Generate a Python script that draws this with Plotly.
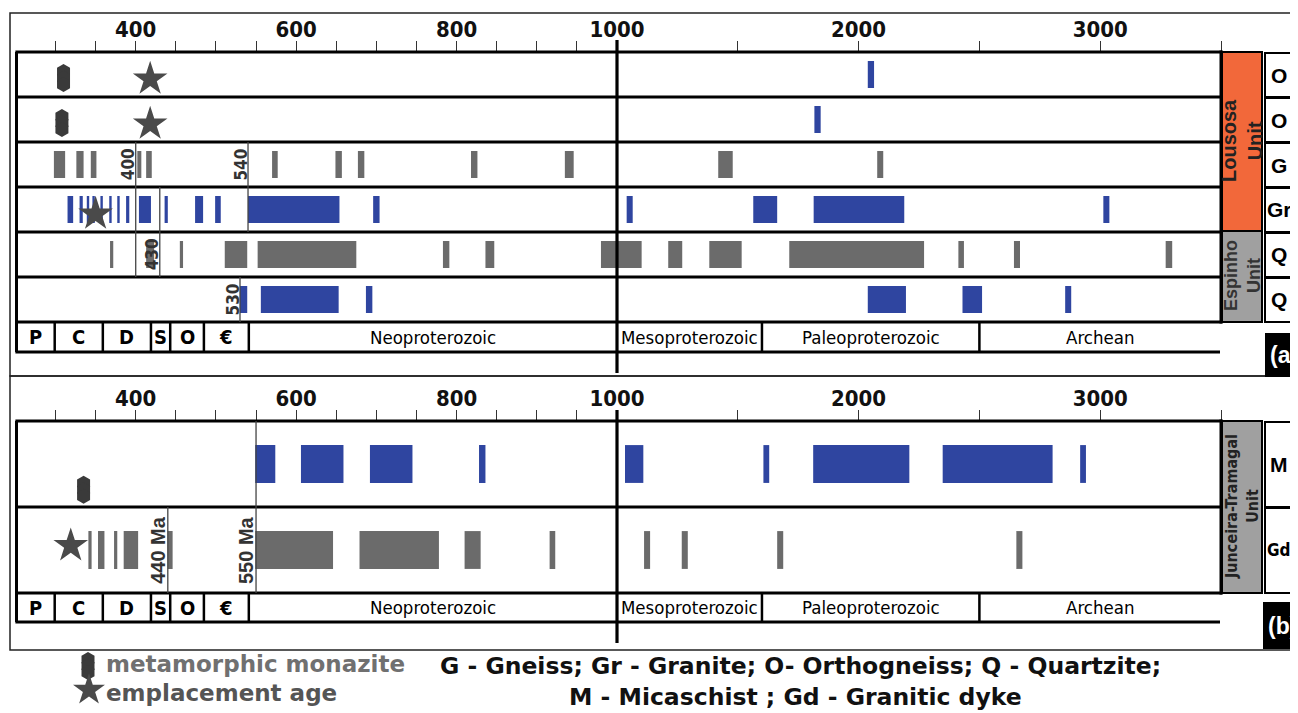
import plotly.graph_objects as go

# page body has an 8 px margin: the figure is drawn 8 px smaller and all
# positions below are given in window pixels, shifted by OFF
OFF = 8
W, H = 1298 - OFF, 713 - OFF

# ---------------- data (ages in Ma) ----------------
rows_a = ["O", "O", "G", "Gr", "Q", "Q"]
rows_b = ["M", "Gd"]

a_row1_blue = [(2038, 2064)]
a_row2_blue = [(1817, 1843)]
a_row3_gray = [(298, 312), (326, 335), (344, 351), (402, 407), (413, 420), (570, 577),
               (649, 657), (677, 685), (818, 826), (935, 946), (1419, 1479), (2077, 2102)]
a_row4_blue = [(315, 322), (330, 334), (339, 342), (346, 349), (356, 359), (367, 370),
               (377, 380), (388, 392), (404, 419), (436, 440), (474, 484), (499, 506),
               (540, 654), (696, 704), (1040, 1065), (1564, 1663), (1814, 2189), (3013, 3038)]
a_row5_gray = [(368, 372), (413, 423), (455, 459), (511, 539), (552, 675), (783, 791),
               (836, 847), (980, 1102), (1212, 1270), (1382, 1516), (1713, 2271),
               (2413, 2436), (2643, 2668), (3271, 3298)]
a_row6_blue = [(530, 539), (556, 653), (687, 695), (2038, 2196), (2430, 2511), (2855, 2880)]

b_row1_blue = [(549, 574), (606, 659), (692, 745), (828, 836), (1033, 1109), (1606, 1630),
               (1812, 2210), (2348, 2803), (2917, 2941)]
b_row2_gray = [(341, 345), (353, 361), (373, 377), (385, 403), (440, 446), (549, 646),
               (679, 778), (810, 830), (916, 923), (1112, 1137), (1268, 1293), (1663, 1688),
               (2653, 2678)]

monazite_a_age = [310, 308]
monazite_a_row = [0, 1]
star_a_age = [418, 418, 350]
star_a_row = [0, 1, 3]
monazite_b_age = [335]
monazite_b_row = [0]
star_b_age = [319]
star_b_row = [1]

ref_a_age = [400, 540, 430, 530]
ref_a_rows = [(2, 4), (2, 3), (3, 4), (5, 5)]
ref_a_label_row = [2, 2, 4, 5]
ref_b_age = [440, 550]
ref_b_rows = [(1, 1), (0, 1)]
ref_b_text = ["440 Ma", "550 Ma"]

period_names = ["P", "C", "D", "S", "O", "€", "Neoproterozoic", "Mesoproterozoic",
                "Paleoproterozoic", "Archean"]
period_start = [252, 299, 359, 419, 443, 485, 541, 1000, 1600, 2500]
period_end = [299, 359, 419, 443, 485, 541, 1000, 1600, 2500, 3500]

left_ticks = list(range(300, 1000, 50))
left_labels = [400, 600, 800]
right_ticks = [1000, 1500, 2000, 2500, 3000, 3500]
right_labels = [1000, 2000, 3000]

# ---------------- styling ----------------
BLUE = "#2f45a0"
GRAY = "#6b6b6b"
NARROW = "Liberation Sans Narrow, DejaVu Sans Condensed, Arial Narrow, sans-serif"
ARIAL = "Liberation Sans, Arial, sans-serif"
WIDE = "DejaVu Sans, Verdana, sans-serif"


def px(x):
    return (x - OFF) / W


def py(y):
    return 1 - (y - OFF) / H


XL0, XB, XR1 = 15.4, 617, 1221
A_TOP, A_BOT = 52, 352
B_TOP, B_BOT = 421, 622
A_RANGE = [5.5 + 30 / 45, -0.5]
B_RANGE = [1.5 + 29 / 86, -0.5]

fig = go.Figure()


def split(intervals):
    left, right = [], []
    for s, e in intervals:
        if e <= 1000:
            left.append((s, e))
        elif s >= 1000:
            right.append((s, e))
        else:
            left.append((s, 1000))
            right.append((1000, e))
    return left, right


def add_bars(intervals, row, color, width, xl, xr, ya):
    left, right = split(intervals)
    for part, xa in ((left, xl), (right, xr)):
        if not part:
            continue
        fig.add_trace(go.Bar(
            y=[row] * len(part), base=[s for s, e in part], x=[e - s for s, e in part],
            orientation="h", width=width, marker=dict(color=color, line=dict(width=0)),
            xaxis=xa, yaxis=ya, showlegend=False, hoverinfo="skip"))


add_bars(a_row1_blue, 0, BLUE, 0.6, "x", "x2", "y")
add_bars(a_row2_blue, 1, BLUE, 0.6, "x", "x2", "y")
add_bars(a_row3_gray, 2, GRAY, 0.6, "x", "x2", "y")
add_bars(a_row4_blue, 3, BLUE, 0.6, "x", "x2", "y")
add_bars(a_row5_gray, 4, GRAY, 0.6, "x", "x2", "y")
add_bars(a_row6_blue, 5, BLUE, 0.6, "x", "x2", "y")
add_bars(b_row1_blue, 0, BLUE, 0.44, "x3", "x4", "y2")
add_bars(b_row2_gray, 1, GRAY, 0.44, "x3", "x4", "y2")


def add_monazite(ages, rows, xa, ya, off, shift):
    for k in (-1, 0, 1):
        fig.add_trace(go.Scatter(
            x=ages, y=[r + shift + k * off for r in rows], mode="markers",
            marker=dict(symbol="hexagon", size=15, color="#3a3a3a",
                        line=dict(color="#2a2a2a", width=0)),
            xaxis=xa, yaxis=ya, showlegend=False, hoverinfo="skip"))


def add_star(ages, rows, xa, ya, shift, size=26):
    fig.add_trace(go.Scatter(
        x=ages, y=[r + shift for r in rows], mode="markers",
        marker=dict(symbol="star", size=size, color="#4a4a4a", line=dict(width=0)),
        xaxis=xa, yaxis=ya, showlegend=False, hoverinfo="skip"))


add_monazite(monazite_a_age, monazite_a_row, "x", "y", 6.5 / 45, 0.08)
add_star(star_a_age, star_a_row, "x", "y", 0.1)
add_monazite(monazite_b_age, monazite_b_row, "x3", "y2", 6.5 / 86, 0.30)
add_star(star_b_age, star_b_row, "x3", "y2", -0.05)

# legend glyphs on an overlay pixel axis
add_monazite([88], [666], "x5", "y5", 6.5, 0)
add_star([89], [690], "x5", "y5", 0, size=24)

shapes = []
annotations = []


def line(x0, y0, x1, y1, w=3, color="black", xref="paper", yref="paper"):
    shapes.append(dict(type="line", x0=x0, y0=y0, x1=x1, y1=y1, xref=xref, yref=yref,
                       line=dict(color=color, width=w), layer="above"))


def rect(x0, y0, x1, y1, fill, w=2, color="black"):
    shapes.append(dict(type="rect", x0=px(x0), y0=py(y0), x1=px(x1), y1=py(y1),
                       xref="paper", yref="paper", fillcolor=fill,
                       line=dict(color=color, width=w), layer="below"))


def text(x, y, s, size, family=ARIAL, color="black", angle=0, xref="paper", yref="paper",
         xanchor="center", yanchor="middle", xshift=0, yshift=0):
    annotations.append(dict(x=x, y=y, xref=xref, yref=yref, text=s, showarrow=False,
                            font=dict(size=size, family=family, color=color),
                            textangle=angle, xanchor=xanchor, yanchor=yanchor,
                            xshift=xshift, yshift=yshift))


def panel(top, bot, nrows, rowh, frame_top, frame_bot, vline_top, vline_bot, ya, xl, xr,
          per_y0, per_y1, per_c):
    rect(10, frame_top, 1330, frame_bot, "rgba(0,0,0,0)", w=1.5, color="#222")
    for i in range(nrows + 1):
        y = top + i * rowh
        line(px(XL0), py(y), px(XR1 + 1.5), py(y), 3)
    line(px(XL0), py(bot), px(1220), py(bot), 3)
    line(px(16.5), py(top), px(16.5), py(bot), 3)
    line(px(XR1), py(top - 1.5), px(XR1), py(top + nrows * rowh + 1.5), 3)
    line(px(XB), py(vline_top), px(XB), py(vline_bot), 3.2)
    for name, s, e in zip(period_names, period_start, period_end):
        xa = xl if e <= 1000 else xr
        if s not in (252, 1000):
            line(s, per_y0, s, per_y1, 2.5, xref=xa, yref=ya)
        big = len(name) > 1
        text((s + e) / 2, per_c, name if big else "<b>%s</b>" % name,
             18.5 if big else 20, NARROW, xref=xa, yref=ya)


panel(A_TOP, A_BOT, 6, 45, 13, 376, 40, 373, "y", "x", "x2", 5.5, 5.5 + 30 / 45, 5.5 + 15 / 45)
panel(B_TOP, B_BOT, 2, 86, 376, 650, 410, 643, "y2", "x3", "x4", 1.5, 1.5 + 29 / 86,
      1.5 + 14.5 / 86)

for age, (r0, r1), lr in zip(ref_a_age, ref_a_rows, ref_a_label_row):
    line(age, r0 - 0.5, age, r1 + 0.5, 1.3, "#444", xref="x", yref="y")
    text(age, lr, "<b>%d</b>" % age, 17, NARROW, "#333", -90, xref="x", yref="y", xshift=-8)
for age, (r0, r1), t in zip(ref_b_age, ref_b_rows, ref_b_text):
    line(age, r0 - 0.5, age, r1 + 0.5, 1.3, "#444", xref="x3", yref="y2")
    text(age, 1, "<b>%s</b>" % t, 20, ARIAL, "#333", -90, xref="x3", yref="y2", xshift=-10)

rect(1222, 52, 1262, 231, "#f2683a")
rect(1222, 231, 1262, 322, "#a0a0a0")
rect(1222, 421, 1262, 593, "#a0a0a0")
text(px(1242), py(141), "<b>Lousosa<br>Unit</b>", 20, ARIAL, "#222", -90)
text(px(1242), py(276), "<b>Espinho<br>Unit</b>", 18, ARIAL, "#333", -90)
text(px(1242), py(507), "<b>Junceira-Tramagal<br>Unit</b>", 16, NARROW, "#222", -90)
for i, r in enumerate(rows_a):
    y0 = A_TOP + i * 45
    rect(1265, y0 + 1, 1293, y0 + 45, "white")
    text(px(1279), py(y0 + 23), "<b>%s</b>" % r, 21, ARIAL)
for i, r in enumerate(rows_b):
    y0 = B_TOP + i * 86
    rect(1265, y0 + 1, 1293, y0 + 86, "white")
    text(px(1279), py(y0 + 43), "<b>%s</b>" % r, 21 if r == "M" else 17,
         ARIAL if r == "M" else NARROW)

rect(1266, 334, 1340, 376, "black")
rect(1264, 603, 1340, 648, "black")
text(px(1268), py(355), "<b>(a)</b>", 23, ARIAL, "white", xanchor="left")
text(px(1266), py(626), "<b>(b)</b>", 23, ARIAL, "white", xanchor="left")

text(px(104), py(664), "<b>metamorphic monazite</b>", 23, WIDE, "#707070", xanchor="left")
text(px(104), py(693), "<b>emplacement age</b>", 23, WIDE, "#555", xanchor="left")
text(px(800), py(666), "<b>G - Gneiss; Gr - Granite; O- Orthogneiss; Q - Quartzite;</b>", 23.5,
     WIDE, "#111")
text(px(795), py(697), "<b>M - Micaschist ; Gd - Granitic dyke</b>", 23.5, WIDE, "#111")


def xaxis(domain, rng, ticks, labels, pos):
    return dict(domain=domain, range=rng, side="top", anchor="free", position=pos,
                tickmode="array", tickvals=ticks,
                ticktext=[str(t) if t in labels else "" for t in ticks],
                ticks="outside", ticklen=11, tickwidth=1.3, tickcolor="#333",
                ticklabelstandoff=-5,
                tickfont=dict(family=NARROW, size=22, color="#111", weight="bold"),
                showgrid=False, zeroline=False, showline=False, fixedrange=True,
                automargin=False)


hidden = dict(visible=False, fixedrange=True, automargin=False)
fig.update_layout(
    template="none",
    width=W, height=H, margin=dict(l=0, r=0, t=0, b=0, pad=0, autoexpand=False),
    paper_bgcolor="white", plot_bgcolor="rgba(0,0,0,0)", barmode="overlay",
    showlegend=False,
    xaxis=xaxis([px(XL0), px(XB)], [250, 1000], left_ticks, left_labels, py(A_TOP)),
    xaxis2=xaxis([px(XB), px(XR1)], [1000, 3500], right_ticks, right_labels, py(A_TOP)),
    xaxis3=xaxis([px(XL0), px(XB)], [250, 1000], left_ticks, left_labels, py(B_TOP)),
    xaxis4=xaxis([px(XB), px(XR1)], [1000, 3500], right_ticks, right_labels, py(B_TOP)),
    yaxis=dict(domain=[py(A_BOT), py(A_TOP)], range=A_RANGE, anchor="x", **hidden),
    yaxis2=dict(domain=[py(B_BOT), py(B_TOP)], range=B_RANGE, anchor="x3", **hidden),
    xaxis5=dict(domain=[0, 1], range=[OFF, OFF + W], anchor="y5", **hidden),
    yaxis5=dict(domain=[0, 1], range=[OFF + H, OFF], anchor="x5", **hidden),
    shapes=shapes, annotations=annotations,
)

fig.write_html("out.html")
